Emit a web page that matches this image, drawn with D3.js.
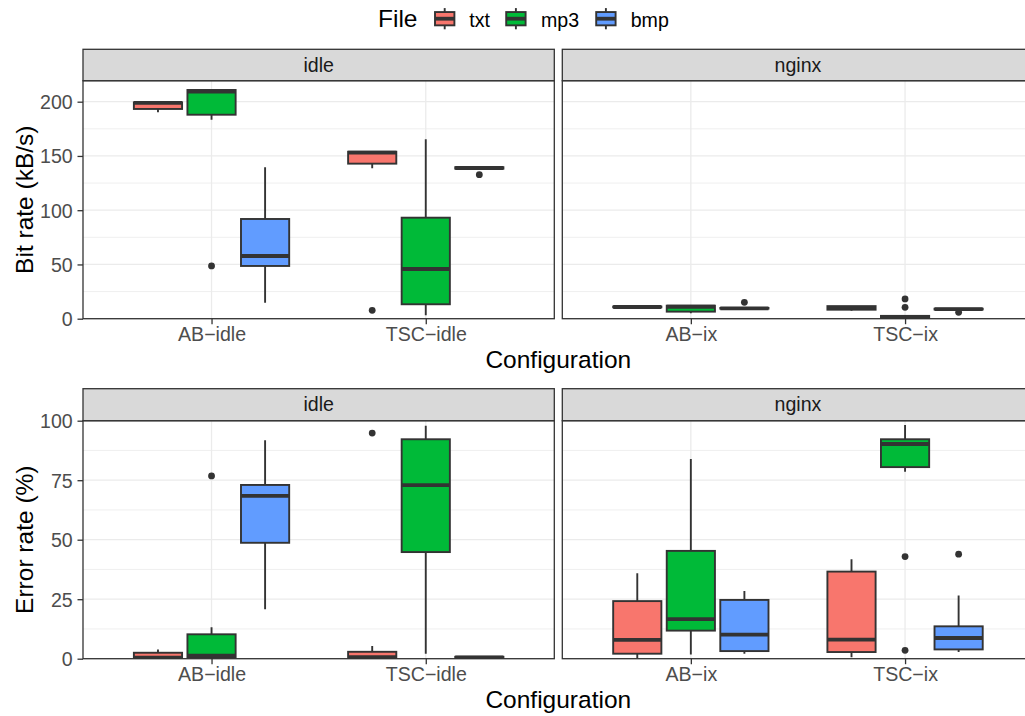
<!DOCTYPE html>
<html>
<head>
<meta charset="utf-8">
<script src="https://cdn.jsdelivr.net/npm/d3@7"></script>
<style>
  html, body { margin: 0; padding: 0; background: #ffffff; }
  svg { display: block; font-family: "Liberation Sans", Arial, Helvetica, sans-serif; }
</style>
</head>
<body>
<svg id="chart" width="1025" height="716"></svg>
<script>
// ---------------- data ----------------
const files = ["txt", "mp3", "bmp"];
const fileColors = ["#F8766D", "#00BA38", "#619CFF"];
const facets = ["idle", "nginx"];
const configsByFacet = [["AB\u2212idle", "TSC\u2212idle"], ["AB\u2212ix", "TSC\u2212ix"]];

// order of entries: facet (idle, nginx) -> configuration -> file (txt, mp3, bmp)
const bitLow     = [190.2, 183.4, 14.7,  138.6, 3.1,   138.0,  10.2, 5.0,  9.0,   7.4,  0.0, 8.2];
const bitQ1      = [193.3, 188.0, 48.6,  142.9, 13.3,  138.3,  10.5, 6.5,  9.3,   8.3,  0.2, 8.5];
const bitMedian  = [199.0, 209.2, 57.8,  153.0, 45.8,  138.9,  10.8, 11.0, 9.6,   10.0, 0.8, 8.8];
const bitQ3      = [199.4, 210.8, 91.9,  153.9, 93.1,  139.6,  11.2, 12.0, 9.9,   11.6, 2.6, 9.2];
const bitHigh    = [200.6, 210.8, 139.5, 154.5, 165.3, 140.0,  11.6, 12.0, 10.2,  11.8, 2.8, 9.6];
const bitOutliers = [[], [48.6], [],  [7.7], [], [132.7],  [], [], [15.1],  [], [18.2, 10.5], [5.9]];

const errLow     = [0.0, 0.2,   20.8,  0.0,  2.1,  0.2,   0.2,  1.8,  2.1,   0.6,  78.6, 2.8];
const errQ1      = [0.2, 0.4,   48.7,  0.3,  44.8, 0.3,   2.1,  11.8, 3.2,   2.8,  80.5, 3.9];
const errMedian  = [0.4, 1.3,   68.4,  0.7,  72.9, 0.5,   7.9,  16.6, 10.1,  8.0,  90.2, 8.7];
const errQ3      = [2.5, 10.25, 73.0,  2.9,  92.2, 0.8,   24.2, 45.3, 24.7,  36.6, 92.2, 13.6];
const errHigh    = [3.9, 13.2,  91.8,  5.3,  97.9, 1.0,   35.9, 83.9, 28.4,  41.8, 98.2, 26.6];
const errOutliers = [[], [76.8], [],  [94.8], [], [],  [], [], [],  [], [42.9, 3.5], [43.9]];

const bitTicks = [0, 50, 100, 150, 200];
const bitMinor = [25, 75, 125, 175];
const errTicks = [0, 25, 50, 75, 100];
const errMinor = [12.5, 37.5, 62.5, 87.5];

// ---------------- layout ----------------
const svg = d3.select("#chart");
svg.append("rect").attr("width", 1025).attr("height", 716).attr("fill", "#ffffff");

const FONT = "'Liberation Sans', Arial, Helvetica, sans-serif";
const cols = [{x0: 83, x1: 554.3}, {x0: 562.3, x1: 1033.6}];
const rows = [
  {stripTop: 49.3, top: 80.7, bottom: 318.7, domain: [0, 219.35], ticks: bitTicks, minor: bitMinor,
   low: bitLow, q1: bitQ1, med: bitMedian, q3: bitQ3, high: bitHigh, out: bitOutliers,
   ylab: "Bit rate (kB/s)"},
  {stripTop: 388.7, top: 420.7, bottom: 658.7, domain: [0, 100], ticks: errTicks, minor: errMinor,
   low: errLow, q1: errQ1, med: errMedian, q3: errQ3, high: errHigh, out: errOutliers,
   ylab: "Error rate (%)"}
];

const dark = "#333333";

rows.forEach((row, ri) => {
  const y = d3.scaleLinear().domain(row.domain).range([row.bottom, row.top]);
  cols.forEach((col, fi) => {
    const x = d3.scalePoint().domain(configsByFacet[fi]).range([col.x0, col.x1]).padding(0.6);
    const step = x.step();
    const g = svg.append("g");
    // panel background
    g.append("rect").attr("x", col.x0).attr("y", row.top)
      .attr("width", col.x1 - col.x0).attr("height", row.bottom - row.top).attr("fill", "#ffffff");
    // minor grid
    g.selectAll(".minor").data(row.minor).join("line")
      .attr("x1", col.x0).attr("x2", col.x1)
      .attr("y1", d => y(d)).attr("y2", d => y(d))
      .attr("stroke", "#ebebeb").attr("stroke-width", 0.8);
    // major grid
    g.selectAll(".majorY").data(row.ticks).join("line")
      .attr("x1", col.x0).attr("x2", col.x1)
      .attr("y1", d => y(d)).attr("y2", d => y(d))
      .attr("stroke", "#ebebeb").attr("stroke-width", 1.3);
    g.selectAll(".majorX").data(configsByFacet[fi]).join("line")
      .attr("x1", d => x(d)).attr("x2", d => x(d))
      .attr("y1", row.top).attr("y2", row.bottom)
      .attr("stroke", "#ebebeb").attr("stroke-width", 1.3);

    // boxes
    const boxes = [];
    configsByFacet[fi].forEach((cfg, ci) => {
      files.forEach((f, k) => {
        const idx = fi * 6 + ci * 3 + k;
        boxes.push({cfg, k, idx});
      });
    });
    const clipId = "clip" + ri + fi;
    svg.append("clipPath").attr("id", clipId).append("rect")
      .attr("x", col.x0).attr("y", row.top).attr("width", col.x1 - col.x0).attr("height", row.bottom - row.top);
    const bg = g.append("g").attr("clip-path", "url(#" + clipId + ")");
    boxes.forEach(b => {
      const cx = x(b.cfg) + (b.k - 1) * 0.25 * step;
      const hw = 0.225 * step / 2;
      const i = b.idx;
      bg.append("line").attr("x1", cx).attr("x2", cx)
        .attr("y1", y(row.low[i])).attr("y2", y(row.q1[i]))
        .attr("stroke", dark).attr("stroke-width", 1.9);
      bg.append("line").attr("x1", cx).attr("x2", cx)
        .attr("y1", y(row.q3[i])).attr("y2", y(row.high[i]))
        .attr("stroke", dark).attr("stroke-width", 1.9);
      bg.append("rect").attr("x", cx - hw).attr("y", y(row.q3[i]))
        .attr("width", 2 * hw).attr("height", Math.max(0, y(row.q1[i]) - y(row.q3[i])))
        .attr("fill", fileColors[b.k]).attr("stroke", dark).attr("stroke-width", 1.9);
      bg.append("line").attr("x1", cx - hw).attr("x2", cx + hw)
        .attr("y1", y(row.med[i])).attr("y2", y(row.med[i]))
        .attr("stroke", dark).attr("stroke-width", 3.8);
      bg.selectAll(null).data(row.out[i]).join("circle")
        .attr("cx", cx).attr("cy", d => y(d)).attr("r", 3.4).attr("fill", dark);
    });

    // panel border
    g.append("rect").attr("x", col.x0).attr("y", row.top)
      .attr("width", col.x1 - col.x0).attr("height", row.bottom - row.top)
      .attr("fill", "none").attr("stroke", dark).attr("stroke-width", 1.3);
    // strip
    g.append("rect").attr("x", col.x0).attr("y", row.stripTop)
      .attr("width", col.x1 - col.x0).attr("height", row.top - row.stripTop)
      .attr("fill", "#d9d9d9").attr("stroke", dark).attr("stroke-width", 1.3);
    g.append("text").attr("x", (col.x0 + col.x1) / 2).attr("y", row.stripTop + 22.4)
      .attr("text-anchor", "middle").attr("font-size", 19.6).attr("fill", "#1a1a1a")
      .attr("font-family", FONT).text(facets[fi]);

    // x axis
    const xa = svg.append("g").attr("transform", `translate(0,${row.bottom})`)
      .call(d3.axisBottom(x).tickSize(5.5).tickPadding(2.6));
    xa.select(".domain").remove();
    xa.selectAll(".tick line").attr("stroke", dark).attr("stroke-width", 1.3);
    xa.selectAll(".tick text").attr("font-size", 19.6).attr("fill", "#4d4d4d").attr("font-family", FONT);

    // y axis (left column only)
    if (fi === 0) {
      const ya = svg.append("g").attr("transform", `translate(${col.x0},0)`)
        .call(d3.axisLeft(y).tickValues(row.ticks).tickSize(5.5).tickPadding(4.8));
      ya.select(".domain").remove();
      ya.selectAll(".tick line").attr("stroke", dark).attr("stroke-width", 1.3);
      ya.selectAll(".tick text").attr("font-size", 19.6).attr("fill", "#4d4d4d")
        .attr("font-family", FONT).attr("dy", "0.35em");
    }
  });

  // axis titles
  svg.append("text").attr("x", (cols[0].x0 + cols[1].x1) / 2).attr("y", row.bottom + 49.6)
    .attr("text-anchor", "middle").attr("font-size", 24.5).attr("fill", "#000000")
    .attr("font-family", FONT).text("Configuration");
  svg.append("text")
    .attr("transform", `translate(32.5,${(row.top + row.bottom) / 2}) rotate(-90)`)
    .attr("text-anchor", "middle").attr("font-size", 24.5).attr("fill", "#000000")
    .attr("font-family", FONT).text(row.ylab);
});

// ---------------- legend ----------------
const leg = svg.append("g");
leg.append("text").attr("x", 378).attr("y", 26.7).attr("font-size", 24.5)
  .attr("font-family", FONT).attr("fill", "#000000").text("File");
const keyCenters = [444.7, 515.9, 605.9];
const labelX = [469.3, 541, 630.7];
files.forEach((f, k) => {
  const cx = keyCenters[k], cy = 18.7, kw = 19.4, kh = 13.3;
  leg.append("line").attr("x1", cx).attr("x2", cx).attr("y1", cy - 10.6).attr("y2", cy + 10.6)
    .attr("stroke", dark).attr("stroke-width", 1.9);
  leg.append("rect").attr("x", cx - kw / 2).attr("y", cy - kh / 2).attr("width", kw).attr("height", kh)
    .attr("fill", fileColors[k]).attr("stroke", dark).attr("stroke-width", 1.9);
  leg.append("line").attr("x1", cx - kw / 2).attr("x2", cx + kw / 2).attr("y1", cy).attr("y2", cy)
    .attr("stroke", dark).attr("stroke-width", 3.8);
  leg.append("text").attr("x", labelX[k]).attr("y", 26.5).attr("font-size", 19.6)
    .attr("font-family", FONT).attr("fill", "#000000").text(f);
});
</script>
</body>
</html>
